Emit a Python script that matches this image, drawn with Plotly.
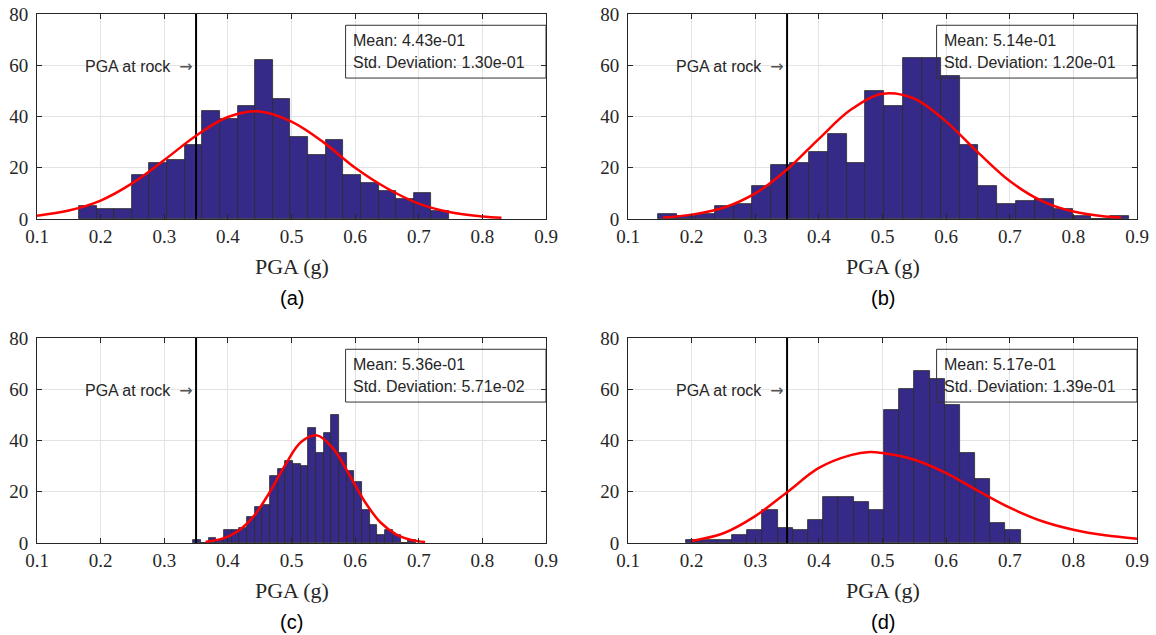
import numpy as np
import plotly.graph_objects as go
from plotly.subplots import make_subplots

# Histogram counts per bin
a_counts = [5, 4, 4, 17, 22, 23, 29, 42, 39, 44, 62, 47, 32, 25, 31, 17, 14, 11, 8, 10, 3]
b_counts = [2, 1, 2, 5, 6, 13, 21, 22, 26, 33, 22, 50, 44, 63, 63, 56, 29, 13, 6, 7, 8, 4, 1, 0, 1]
c_counts = [1, 0, 2, 1, 5, 5, 6, 10, 14, 15, 26, 29, 32, 31, 30, 45, 35, 43, 50, 35, 28, 24, 13, 7, 3, 5, 3, 0, 1]
d_counts = [1, 1, 1, 3, 5, 13, 6, 5, 9, 18, 18, 16, 13, 52, 60, 67, 64, 54, 35, 25, 8, 5]

# first bin edge and bin width (g)
a_bins = (0.166, 0.0277)
b_bins = (0.1475, 0.0296)
c_bins = (0.3457, 0.01206)
d_bins = (0.1918, 0.02388)

# fitted curves, points
a_fit_x = [0.10, 0.15, 0.20, 0.25, 0.30, 0.35, 0.40, 0.45, 0.50, 0.55, 0.60, 0.65, 0.70, 0.75, 0.80, 0.83]
a_fit_y = [1.3, 3.3, 7.2, 14, 23, 32.5, 39.8, 42, 38, 30, 20, 12, 6, 2.6, 1, 0.5]
b_fit_x = [0.155, 0.20, 0.25, 0.30, 0.35, 0.40, 0.45, 0.50, 0.55, 0.60, 0.65, 0.70, 0.75, 0.80, 0.85, 0.875]
b_fit_y = [0.6, 1.7, 4.4, 10, 19.3, 31.3, 42.6, 48.9, 47, 38, 26, 14.8, 7.1, 2.9, 1, 0.6]
c_fit_x = [0.365, 0.39, 0.415, 0.44, 0.465, 0.49, 0.515, 0.54, 0.565, 0.59, 0.615, 0.64, 0.665, 0.69, 0.71]
c_fit_y = [0.5, 1.6, 4.5, 10.3, 19.5, 30.4, 39.4, 42, 37, 27, 16.2, 8, 3.3, 1.1, 0.4]
d_fit_x = [0.20, 0.25, 0.30, 0.35, 0.40, 0.45, 0.48, 0.50, 0.55, 0.60, 0.65, 0.70, 0.75, 0.80, 0.85, 0.90]
d_fit_y = [0.8, 3.8, 10.5, 19.8, 29.3, 34.3, 35.5, 35.1, 32.5, 27.3, 20.4, 13.8, 8.6, 5.2, 3.0, 1.7]

means = ["4.43e-01", "5.14e-01", "5.36e-01", "5.17e-01"]
stds = ["1.30e-01", "1.20e-01", "5.71e-02", "1.39e-01"]
labels = ["(a)", "(b)", "(c)", "(d)"]
rock_pga = 0.35

panels = [
    (1, 1, a_counts, a_bins, a_fit_x, a_fit_y),
    (1, 2, b_counts, b_bins, b_fit_x, b_fit_y),
    (2, 1, c_counts, c_bins, c_fit_x, c_fit_y),
    (2, 2, d_counts, d_bins, d_fit_x, d_fit_y),
]

W, H = 1156, 635
ink = "#262626"
sans = "Liberation Sans"
serif = "Liberation Serif"


def px(xs):
    return xs / W


def py(ys):
    return 1 - ys / H


fig = make_subplots(rows=2, cols=2)

for i, (r, c, counts, (edge0, bw), fx, fy) in enumerate(panels):
    centers = edge0 + bw * (np.arange(len(counts)) + 0.5)
    fig.add_trace(go.Bar(x=centers, y=counts, width=bw,
                         marker=dict(color="#352a87", line=dict(color="#2b2b2b", width=0.8))),
                  row=r, col=c)
    fig.add_trace(go.Scatter(x=[rock_pga, rock_pga], y=[0, 80], mode="lines",
                             line=dict(color="black", width=2)), row=r, col=c)
    fig.add_trace(go.Scatter(x=fx, y=fy, mode="lines", line=dict(color="#ff0000", width=2.5, shape="spline")),
                  row=r, col=c)

    # arrow label for rock PGA
    fig.add_annotation(x=rock_pga, y=59.5,
                       text="PGA at rock  <span style='font-family:DejaVu Sans;color:#555'>\u2192</span>",
                       showarrow=False, xanchor="right", yanchor="middle", xshift=-1,
                       font=dict(family=sans, size=16, color=ink), row=r, col=c)

    # stats box
    fig.add_shape(type="rect", x0=0.585, x1=0.9, y0=55, y1=75.6,
                  line=dict(color="#333333", width=1), fillcolor="rgba(0,0,0,0)", row=r, col=c)
    fig.add_annotation(x=0.593, y=69.6, text="Mean: " + means[i], showarrow=False,
                       xanchor="left", yanchor="middle",
                       font=dict(family=sans, size=16, color=ink), row=r, col=c)
    fig.add_annotation(x=0.593, y=61.0, text="Std. Deviation: " + stds[i], showarrow=False,
                       xanchor="left", yanchor="middle",
                       font=dict(family=sans, size=16, color=ink), row=r, col=c)

# axes placement in screen pixels
x_dom = [(37, 546), (628, 1137)]
y_dom = [(14, 219), (338, 543)]

for r in (1, 2):
    for c in (1, 2):
        x0, x1 = x_dom[c - 1]
        yt, yb = y_dom[r - 1]
        fig.update_xaxes(domain=[px(x0), px(x1)], range=[0.1, 0.9], tick0=0.1, dtick=0.1, tickformat=".1f",
                         ticks="inside", ticklen=5, tickcolor=ink, mirror="ticks", showline=True,
                         linecolor=ink, linewidth=1, showgrid=True, gridcolor="#e3e3e3", zeroline=False,
                         automargin=False, ticklabelstandoff=0, ticklabeloverflow="allow",
                         tickfont=dict(family=serif, size=19, color=ink), row=r, col=c)
        fig.update_yaxes(domain=[py(yb), py(yt)], range=[0, 80], dtick=20,
                         ticks="inside", ticklen=5, tickcolor=ink, mirror="ticks", showline=True,
                         linecolor=ink, linewidth=1, showgrid=True, gridcolor="#e3e3e3", zeroline=False,
                         automargin=False, ticklabelstandoff=4, ticklabeloverflow="allow",
                         tickfont=dict(family=serif, size=19, color=ink), row=r, col=c)
        k = (r - 1) * 2 + (c - 1)
        xc = px((x0 + x1) / 2)
        # axis title and panel caption
        fig.add_annotation(x=xc, y=py(yb + 47), xref="paper", yref="paper", text="PGA (g)",
                           xanchor="center", yanchor="middle", showarrow=False,
                           font=dict(family=serif, size=22, color=ink))
        fig.add_annotation(x=xc, y=py(yb + 79), xref="paper", yref="paper", text=labels[k],
                           xanchor="center", yanchor="middle", showarrow=False,
                           font=dict(family=sans, size=20, color="black"))

fig.update_layout(width=W, height=H, margin=dict(l=0, r=0, t=0, b=0), showlegend=False,
                  plot_bgcolor="white", paper_bgcolor="white", bargap=0)

# drop the default page margin so the figure fills the window exactly
fig.write_html("out.html", config={"displayModeBar": False},
               post_script="document.body.style.margin='0';")
